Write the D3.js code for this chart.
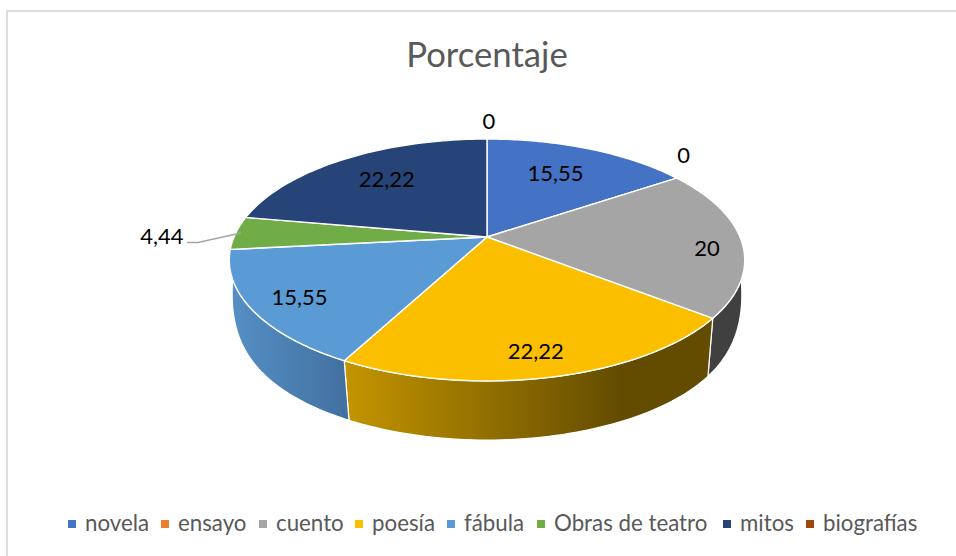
<!DOCTYPE html>
<html>
<head>
<meta charset="utf-8">
<script src="https://cdn.jsdelivr.net/npm/d3@7"></script>
<style>
  html, body { margin: 0; padding: 0; background: #fff; overflow: hidden; }
  text { font-family: Lato, "Open Sans", sans-serif; }
</style>
</head>
<body>
<div id="chart"></div>
<script>
var w = 956, h = 556;

var categories = ["novela", "ensayo", "cuento", "poesía", "fábula", "Obras de teatro", "mitos", "biografías"];
var values = [15.55, 0, 20, 22.22, 15.55, 4.44, 22.22, 0];
var valueLabels = ["15,55", "0", "20", "22,22", "15,55", "4,44", "22,22", "0"];
var colors = ["#4472c4", "#ed7d31", "#a5a5a5", "#fcbf00", "#5b9bd5", "#70ad47", "#264478", "#9e480e"];

// perspective of the disc, fitted by eye on the slice corners
var cx = 487, cy = 237, radius = 253, tilt = 116.6, persp = 0.19;
var depthScale = 0.973, depthDrop = 63;

var svg = d3.select("#chart").append("svg").attr("width", w).attr("height", h);

// chart frame runs off the right and bottom of the picture
svg.append("rect")
    .attr("x", 7).attr("y", 11)
    .attr("width", 1000).attr("height", 600)
    .attr("fill", "#fff").attr("stroke", "#dedede").attr("stroke-width", 2);

function project(a, r) {
  var u = Math.sin(a) * r, v = -Math.cos(a) * r, s = 1 / (1 - persp * v);
  return [cx + radius * u * s, cy + tilt * v * s];
}
// lower rim: not a plain copy of the top rim, it stays wide and rises toward the sides
function projectLow(a) {
  var p = project(a, 1);
  var v = Math.max(-Math.cos(a), 0);
  var fx = 0.99 - 0.03 * v * v;
  var lift = 49 * Math.pow(1 - v, 3);
  return [cx + (p[0] - cx) * fx, cy + (p[1] - cy) * depthScale + depthDrop - lift];
}

var pie = d3.pie().sort(null).value(function(d) { return d; });
var arcs = pie(values);

function arcAngles(d) {
  return d3.range(0, 61).map(function(i) {
    return d.startAngle + (d.endAngle - d.startAngle) * i / 60;
  });
}

var line = d3.line();
var defs = svg.append("defs");

// side walls, only the slices that face the viewer
var walls = [
  {i: 2, stops: [["0%", "#404040"], ["100%", "#404040"]]},
  {i: 3, stops: [["0%", "#c49500"], ["75%", "#634c00"], ["100%", "#634c00"]]},
  {i: 4, stops: [["0%", "#5590c6"], ["100%", "#42709f"]]}
];

walls.forEach(function(wall) {
  var d = arcs[wall.i];
  var angles = arcAngles(d);
  var top = angles.map(function(a) { return project(a, 1); });
  var low = angles.map(projectLow).reverse();
  var pts = top.concat(low);
  var xs = pts.map(function(p) { return p[0]; });
  var id = "wall" + wall.i;
  var grad = defs.append("linearGradient").attr("id", id)
      .attr("gradientUnits", "userSpaceOnUse")
      .attr("x1", d3.min(xs)).attr("x2", d3.max(xs)).attr("y1", 0).attr("y2", 0);
  wall.stops.forEach(function(s) {
    grad.append("stop").attr("offset", s[0]).attr("stop-color", s[1]);
  });
  svg.append("path")
      .attr("d", line(pts) + "Z")
      .attr("fill", "url(#" + id + ")")
      .attr("stroke", "#fff").attr("stroke-width", 1.2).attr("stroke-linejoin", "round");
});

// top face
arcs.forEach(function(d, i) {
  if (d.value === 0) return;
  var pts = [[cx, cy]].concat(arcAngles(d).map(function(a) { return project(a, 1); }));
  svg.append("path")
      .attr("d", line(pts) + "Z")
      .attr("fill", colors[i])
      .attr("stroke", "#fff").attr("stroke-width", 1.4).attr("stroke-linejoin", "round");
});

// leader line of the small slice
var greenMid = (arcs[5].startAngle + arcs[5].endAngle) / 2;
var leadEnd = project(greenMid, 0.98);
svg.append("path")
    .attr("d", line([[187, 242.5], [198, 242.5], leadEnd]))
    .attr("fill", "none").attr("stroke", "#a6a6a6").attr("stroke-width", 1.5);

// value labels: radial position on the disc plus a small nudge, like the hand-placed originals
var labelPlace = [
  {r: 0.65, dx: -1, dy: -3},
  {r: 1, dx: 7, dy: -23},
  {r: 0.85, dx: 4, dy: 8},
  {r: 0.72, dx: 5, dy: 19},
  {r: 0.72, dx: -24, dy: 9},
  {r: 1, dx: -74, dy: 3},
  {r: 0.7, dx: 3, dy: -1},
  {r: 1, dx: 2, dy: -18}
];
var labels = svg.append("g").attr("font-size", 22).attr("fill", "#000").attr("text-anchor", "middle");
arcs.forEach(function(d, i) {
  var p = project((d.startAngle + d.endAngle) / 2, labelPlace[i].r);
  labels.append("text")
      .attr("x", p[0] + labelPlace[i].dx)
      .attr("y", p[1] + labelPlace[i].dy)
      .attr("dy", "0.35em")
      .text(valueLabels[i]);
});

svg.append("text")
    .attr("x", 487).attr("y", 67)
    .attr("text-anchor", "middle")
    .attr("font-size", 34.7).attr("fill", "#595959")
    .text("Porcentaje");

// legend, items sit after each other
var legend = svg.append("g").attr("font-size", 22.3).attr("fill", "#595959");
var legendX = d3.scaleOrdinal()
    .domain(categories)
    .range([68, 161, 259, 355, 447, 537, 723, 806]);
categories.forEach(function(c, i) {
  var x = legendX(c);
  legend.append("rect")
      .attr("x", x).attr("y", 520)
      .attr("width", 8).attr("height", 8)
      .attr("fill", colors[i]);
  legend.append("text")
      .attr("x", x + 17).attr("y", 531)
      .text(c);
});
</script>
</body>
</html>
